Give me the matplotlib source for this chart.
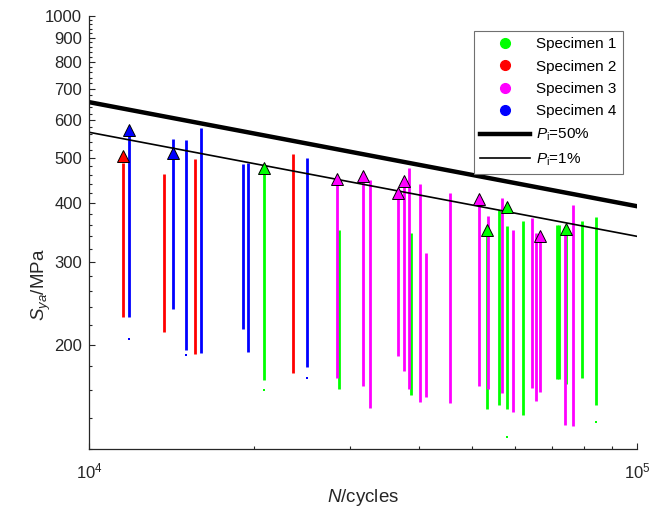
import numpy as np
import matplotlib
matplotlib.use("Agg")
import matplotlib.pyplot as plt
from matplotlib.ticker import FixedLocator, NullFormatter, LogFormatterMathtext

plt.rcParams['font.family'] = ['Liberation Sans', 'DejaVu Sans']
plt.rcParams['mathtext.fontset'] = 'custom'
plt.rcParams['mathtext.rm'] = 'Liberation Sans'
plt.rcParams['mathtext.it'] = 'Liberation Sans:italic'

# S-N scatter columns (cycles, upper / lower stress) for each specimen
s1_x = [20838, 28550, 38740, 53190, 55930, 57990, 61860, 71380, 71950, 74200, 79430, 84080]
s1_hi = [470, 351, 346, 345, 387, 357, 366, 360, 360, 350, 366, 374]
s1_lo = [168, 161, 156, 146, 149, 146, 142, 169, 169, 165, 170, 149]
s1_out_x = [20838, 57990, 84080]
s1_out_y = [160, 127, 137]

s2_x = [11520, 13724, 15634, 23532]
s2_hi = [487, 462, 496, 508]
s2_lo = [229, 213, 191, 174]

s3_x = [28313, 31623, 32610, 36640, 37622, 38320, 40180, 41200, 45590,
        51560, 53550, 56640, 59470, 64420, 65420, 66440, 73950, 76520]
s3_hi = [441, 445, 449, 412, 438, 475, 440, 313, 421,
         397, 375, 410, 351, 372, 345, 336, 346, 397]
s3_lo = [170, 163, 147, 189, 176, 161, 151, 155, 150,
         163, 161, 158, 144, 162, 152, 159, 135, 134]

s4_x = [11815, 14213, 15034, 16011, 19125, 19530, 24950]
s4_hi = [560, 548, 546, 577, 485, 487, 499]
s4_lo = [229, 238, 195, 192, 216, 193, 179]
s4_out_x = [11815, 15034, 24950]
s4_out_y = [206, 190, 170]

# run-out / failure triangles
t1_x = [20838, 53190, 57990, 74200]
t1_y = [475, 351, 392, 352]
t2_x = [11520]
t2_y = [503]
t3_x = [28313, 31623, 36640, 37622, 51560, 66440]
t3_y = [451, 456, 420, 446, 408, 340]
t4_x = [11815, 14213]
t4_y = [573, 511]

# P-S-N curves
curve_x = [1e4, 1e5]
p50_y = [656, 394]
p1_y = [566, 340]

green, red, magenta, blue = '#00ff00', '#ff0000', '#ff00ff', '#0000ff'
dark = '#262626'

fig = plt.figure(figsize=(6.67, 5.07), dpi=100)
ax = fig.add_axes([0.1334, 0.1144, 0.8216, 0.854])

col_lw = 2.0
ax.vlines(s2_x, s2_lo, s2_hi, color=red, lw=col_lw)
ax.vlines(s4_x, s4_lo, s4_hi, color=blue, lw=col_lw)
ax.vlines(s1_x, s1_lo, s1_hi, color=green, lw=col_lw)
ax.vlines(s3_x, s3_lo, s3_hi, color=magenta, lw=col_lw)
ax.plot(s1_out_x, s1_out_y, 's', color=green, ms=2, mew=0)
ax.plot(s4_out_x, s4_out_y, 's', color=blue, ms=2, mew=0)

h50, = ax.plot(curve_x, p50_y, color='black', lw=3.2)
h1, = ax.plot(curve_x, p1_y, color='black', lw=1.2)

for tx, ty, c in [(t1_x, t1_y, green), (t2_x, t2_y, red),
                  (t3_x, t3_y, magenta), (t4_x, t4_y, blue)]:
    ax.plot(tx, ty, '^', color=c, ms=8.5, mec='black', mew=0.7, zorder=5)

hs = [ax.plot([], [], 'o', color=c, ms=7)[0] for c in (green, red, magenta, blue)]

ax.set_xscale('log')
ax.set_yscale('log')
ax.set_xlim(1e4, 1e5)
ax.set_ylim(120, 1000)

ax.xaxis.set_major_locator(FixedLocator([1e4, 1e5]))
ax.xaxis.set_major_formatter(LogFormatterMathtext())
ax.xaxis.set_minor_locator(FixedLocator(np.arange(2, 10) * 1e4))
ax.xaxis.set_minor_formatter(NullFormatter())

yt = list(range(200, 1001, 100))
ax.yaxis.set_major_locator(FixedLocator(yt))
ax.set_yticklabels([str(v) for v in yt])
ax.yaxis.set_minor_locator(FixedLocator([v for v in range(120, 1000, 20) if v not in yt]))
ax.yaxis.set_minor_formatter(NullFormatter())

for s in ['top', 'right']:
    ax.spines[s].set_visible(False)
for s in ['left', 'bottom']:
    ax.spines[s].set_color(dark)
    ax.spines[s].set_linewidth(0.9)

ax.tick_params(which='both', direction='in', colors=dark, width=0.8)
ax.tick_params(which='major', length=4)
ax.tick_params(which='minor', length=2.2)
ax.tick_params(axis='y', which='major', labelsize=12, pad=5)
ax.tick_params(axis='x', which='major', labelsize=12, pad=9)

ax.set_xlabel(r'$N$/cycles', fontsize=13.5, color=dark, labelpad=4)
ax.set_ylabel(r'$S_{ya}$/MPa', fontsize=13.5, color=dark)
ax.yaxis.set_label_coords(-0.066, 0.38)

leg = ax.legend(hs + [h50, h1],
                ['Specimen 1', 'Specimen 2', 'Specimen 3', 'Specimen 4',
                 r'$P_{\mathrm{i}}$=50%', r'$P_{\mathrm{i}}$=1%'],
                loc='upper right', bbox_to_anchor=(0.974, 0.965), borderaxespad=0,
                fontsize=11, handlelength=3.3, labelspacing=0.55, handletextpad=0.4,
                fancybox=False, edgecolor='#707070', framealpha=1)
leg.get_frame().set_linewidth(0.8)

fig.savefig('out.png', dpi=100)
